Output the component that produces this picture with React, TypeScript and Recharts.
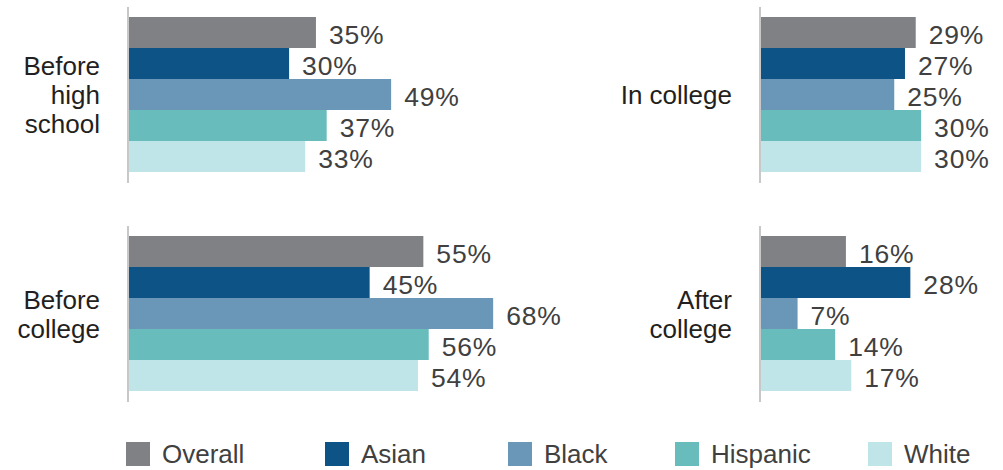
import React from 'react'
import { BarChart, Bar, XAxis, YAxis, LabelList } from 'recharts'

// stages in column order: left column top/bottom, then right column top/bottom
const stages = ['Before high school', 'Before college', 'In college', 'After college']
const groups = ['Overall', 'Asian', 'Black', 'Hispanic', 'White']

const overall = [35, 55, 29, 16]
const asian = [30, 45, 27, 28]
const black = [49, 68, 25, 7]
const hispanic = [37, 56, 30, 14]
const white = [33, 54, 30, 17]

const seriesValues = [overall, asian, black, hispanic, white]
const colors = ['#808184', '#0e5385', '#6a97b7', '#68bdbc', '#c0e5e8']

const FONT = '"Liberation Sans", Arial, Helvetica, sans-serif'
const PX_PER_PCT = 5.37
const CHART_H = 200

const panels = [
  { left: 0, top: 0, width: 600, axisW: 128 },
  { left: 0, top: 219, width: 600, axisW: 128 },
  { left: 600, top: 0, width: 403, axisW: 160 },
  { left: 600, top: 219, width: 403, axisW: 160 }
]

const legendLeft = [126, 325, 508, 675, 868]

// simple word wrap, max 10 chars per line
const wrap = (label: string, maxChars = 10) => {
  const lines: string[] = []
  for (const w of label.split(' ')) {
    const last = lines[lines.length - 1]
    if (last && (last + ' ' + w).length <= maxChars) lines[lines.length - 1] = last + ' ' + w
    else lines.push(w)
  }
  return lines
}

function StageTick(props: any) {
  const { y, payload, anchorX } = props
  const lines = wrap(String(payload.value))
  const lh = 29
  return (
    <text textAnchor="end" fontSize={26} fill="#231f20" fontFamily={FONT}>
      {lines.map((l, i) => (
        <tspan key={i} x={anchorX} y={y + (i - (lines.length - 1) / 2) * lh + 9}>
          {l}
        </tspan>
      ))}
    </text>
  )
}

function ValueLabel(props: any) {
  const vb = props.viewBox ?? props
  const x = Number(vb.x) + Number(vb.width) + 13
  const y = Number(vb.y) + Number(vb.height) / 2 + 11
  return (
    <text x={x} y={y} fontSize={26.5} letterSpacing={0.8} fill="#404040" fontFamily={FONT}>
      {`${props.value}%`}
    </text>
  )
}

function Panel({ index }: { index: number }) {
  const p = panels[index]
  const row: Record<string, string | number> = { stage: stages[index] }
  groups.forEach((g, j) => {
    row[g] = seriesValues[j][index]
  })
  const plotW = p.width - p.axisW

  return (
    <div style={{ position: 'absolute', left: p.left, top: p.top }}>
      <BarChart
        width={p.width}
        height={CHART_H}
        data={[row]}
        layout="vertical"
        margin={{ top: 7, right: 0, bottom: 17, left: 0 }}
        barCategoryGap={10}
        barGap={0}
      >
        <XAxis type="number" hide domain={[0, plotW / PX_PER_PCT]} />
        <YAxis
          type="category"
          dataKey="stage"
          width={p.axisW}
          axisLine={{ stroke: '#c8c8c8', strokeWidth: 2 }}
          tickLine={false}
          tick={(t: any) => <StageTick {...t} anchorX={p.axisW - 28} />}
        />
        {groups.map((g, j) => (
          <Bar key={g} dataKey={g} fill={colors[j]} isAnimationActive={false}>
            <LabelList dataKey={g} content={ValueLabel} />
          </Bar>
        ))}
      </BarChart>
    </div>
  )
}

export default function App() {
  return (
    <div
      style={{
        position: 'absolute',
        left: 0,
        top: 0,
        width: 1003,
        height: 470,
        overflow: 'hidden',
        background: '#fff',
        fontFamily: FONT
      }}
    >
      {stages.map((s, i) => (
        <Panel key={s} index={i} />
      ))}
      {groups.map((g, i) => (
        <div
          key={g}
          style={{
            position: 'absolute',
            left: legendLeft[i],
            top: 442,
            display: 'flex',
            alignItems: 'flex-start'
          }}
        >
          <span style={{ display: 'inline-block', width: 24, height: 24, background: colors[i] }} />
          <span style={{ marginLeft: 12, fontSize: 26, lineHeight: '24px', color: '#404040' }}>{g}</span>
        </div>
      ))}
    </div>
  )
}
